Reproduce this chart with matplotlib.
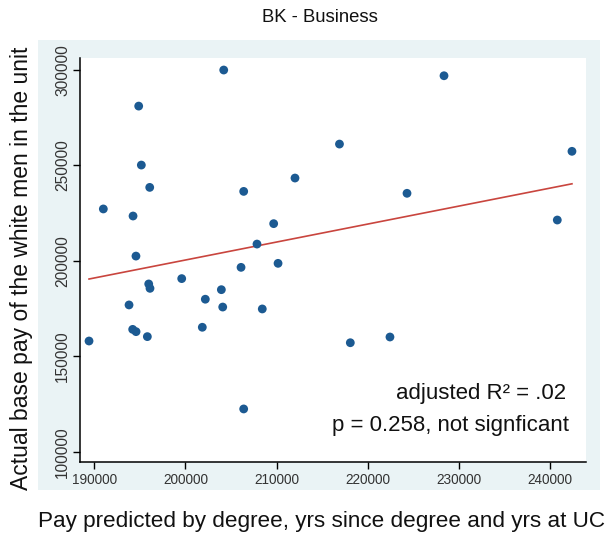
import numpy as np
import matplotlib
matplotlib.use("Agg")
import matplotlib.pyplot as plt

# Data
pred_pay = [189420, 190990, 194250, 194870, 195160, 196080, 194570, 195970, 196110,
            193810, 194210, 194580, 195820, 199590, 202180, 201850, 203940, 204090,
            204200, 206100, 206390, 206390, 207850, 208430, 209680, 210160, 212020,
            216900, 228370, 224310, 242410, 240800, 218090, 222440]
actual_pay = [158000, 227200, 223500, 281100, 250200, 238500, 202500, 187900, 185600,
              176900, 164100, 162900, 160300, 190700, 179900, 165200, 184900, 175800,
              300000, 196600, 236400, 122400, 208800, 174800, 219500, 198700, 243400,
              261200, 297000, 235400, 257400, 221400, 157100, 160100]
x_ticks = [190000, 200000, 210000, 220000, 230000, 240000]
y_ticks = [100000, 150000, 200000, 250000, 300000]

title = "BK - Business"
xlabel = "Pay predicted by degree, yrs since degree and yrs at UC"
ylabel = "Actual base pay of the white men in the unit"
ann1 = "adjusted R\u00b2 = .02"
ann2 = "p = 0.258, not signficant"

plt.rcParams['font.family'] = ['Liberation Sans', 'DejaVu Sans']

W, H = 611, 533
fig = plt.figure(figsize=(W / 100, H / 100), dpi=100)
fig.patch.set_facecolor('white')

# light blue graph region (behind the axes)
bg = fig.add_axes([38 / W, 1 - 490 / H, (600 - 38) / W, (490 - 40) / H], zorder=-5)
bg.set_facecolor('#eaf3f5')
bg.set_xticks([]); bg.set_yticks([])
for s in bg.spines.values():
    s.set_visible(False)

left, right, top, bottom = 80, 586, 58, 462
ax = fig.add_axes([left / W, 1 - bottom / H, (right - left) / W, (bottom - top) / H], zorder=1)
ax.set_facecolor('white')

x = np.array(pred_pay, dtype=float)
y = np.array(actual_pay, dtype=float)
ax.scatter(x, y, s=40, color='#1c5a92', edgecolors='none', zorder=3)

coef = np.polyfit(x, y, 1)
xl = np.array([x.min(), x.max()])
ax.plot(xl, np.polyval(coef, xl), color='#c9453e', lw=1.2, zorder=2)

ax.set_xlim(188430, 243950)
ax.set_ylim(94600, 306300)
ax.set_xticks(x_ticks)
ax.set_yticks(y_ticks)
ax.set_xticklabels([str(t) for t in x_ticks])
ax.set_yticklabels([str(t) for t in y_ticks], rotation=90, va='center')
ax.tick_params(axis='both', direction='out', length=5, width=1, colors='black',
               labelcolor='#333333', pad=3)
ax.tick_params(axis='x', labelsize=9.8)
ax.tick_params(axis='y', labelsize=11.2, pad=2)
for s in ['top', 'right']:
    ax.spines[s].set_visible(False)
for s in ['left', 'bottom']:
    ax.spines[s].set_linewidth(1.1)
    ax.spines[s].set_color('black')

fig.text(320 / W, 1 - 18 / H, title, ha='center', va='center', fontsize=13.3, color='#111111')
fig.text(322 / W, 1 - 522 / H, xlabel, ha='center', va='center', fontsize=16.2, color='#111111')
fig.text(22 / W, 1 - 268 / H, ylabel, ha='center', va='center', rotation=90, fontsize=16.5,
         color='#111111')
fig.text(566 / W, 1 - 393 / H, ann1, ha='right', va='center', fontsize=16, color='#111111')
fig.text(569 / W, 1 - 426 / H, ann2, ha='right', va='center', fontsize=16, color='#111111')

fig.savefig('out.png', dpi=100)
